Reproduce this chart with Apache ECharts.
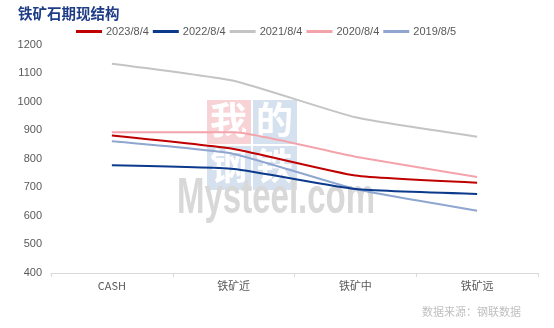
<!DOCTYPE html>
<html><head><meta charset="utf-8">
<script src="https://cdn.jsdelivr.net/npm/echarts@6/dist/echarts.min.js"></script>
<style>html,body{margin:0;padding:0;background:#fff}#c{width:554px;height:328px}</style>
</head><body><div id="c"></div>
<script>
var categories = ['CASH', '铁矿近', '铁矿中', '铁矿远'];
var s2023 = [881, 834, 741, 716];
var s2022 = [777, 764, 694, 677];
var s2021 = [1133, 1073, 945, 877];
var s2020 = [893, 893, 807, 736];
var s2019 = [861, 817, 694, 618];
var seriesNames = ['2023/8/4', '2022/8/4', '2021/8/4', '2020/8/4', '2019/8/5'];
var seriesData = [s2023, s2022, s2021, s2020, s2019];
var colors = ['#c00000', '#0b3a8c', '#c4c4c4', '#f4a3ab', '#8ea6d0'];

var chart = echarts.init(document.getElementById('c'));
var font = 'Liberation Sans, Arial, sans-serif';
var cjk = '"Noto Sans CJK SC", sans-serif';
chart.setOption({
  animation: false,
  color: colors,
  title: {
    text: '铁矿石期现结构', left: 13, top: 1,
    textStyle: {fontFamily: cjk, fontSize: 14.5, fontWeight: 'bold', color: '#1f3c86'}
  },
  legend: {
    data: seriesNames, left: 71, top: 21, itemWidth: 26, itemHeight: 3, itemGap: 4,
    icon: 'rect',
    textStyle: {fontFamily: font, fontSize: 11, color: '#595959', padding: [0, 0, 0, -1]}
  },
  grid: {left: 51, right: 16, top: 44.5, bottom: 55},
  xAxis: {
    type: 'category', data: categories, boundaryGap: true,
    axisLine: {lineStyle: {color: '#d9d9d9'}},
    axisTick: {show: true, length: 4, lineStyle: {color: '#d9d9d9'}},
    axisLabel: {fontFamily: cjk, fontSize: 11, color: '#595959', margin: 7}
  },
  yAxis: {
    type: 'value', min: 400, max: 1200, interval: 100,
    axisLine: {show: false}, axisTick: {show: false}, splitLine: {show: false},
    axisLabel: {fontFamily: font, fontSize: 11, color: '#595959', margin: 9,
      formatter: function (v) { return String(v); }}
  },
  graphic: [
    {type: 'rect', left: 207, top: 100, z: -10, shape: {width: 44, height: 44}, style: {fill: '#f7d3d6'}},
    {type: 'rect', left: 253, top: 100, z: -10, shape: {width: 44, height: 44}, style: {fill: '#d6e1ef'}},
    {type: 'rect', left: 207, top: 146, z: -10, shape: {width: 44, height: 44}, style: {fill: '#d6e1ef'}},
    {type: 'rect', left: 253, top: 146, z: -10, shape: {width: 44, height: 44}, style: {fill: '#d6e1ef'}},
    {type: 'text', left: 210, top: 101, z: -9, style: {text: '我', fill: '#fff', font: 'bold 37px "Noto Sans CJK SC"'}},
    {type: 'text', left: 256, top: 101, z: -9, style: {text: '的', fill: '#fff', font: 'bold 37px "Noto Sans CJK SC"'}},
    {type: 'text', left: 210, top: 147, z: -9, style: {text: '钢', fill: '#fff', font: 'bold 37px "Noto Sans CJK SC"'}},
    {type: 'text', left: 256, top: 147, z: -9, style: {text: '铁', fill: '#fff', font: 'bold 37px "Noto Sans CJK SC"'}},
    {type: 'text', x: 177, y: 174, scaleX: 0.66, z: -8, style: {text: 'Mysteel.com', fill: '#d8d8d8', font: 'bold 50px "Liberation Sans"'}},
    {type: 'text', right: 33, top: 306, style: {text: '数据来源：钢联数据', fill: '#bfbfbf', font: '11px "Noto Sans CJK SC"'}}
  ],
  series: seriesNames.map(function (n, i) {
    return {
      name: n, type: 'line', data: seriesData[i], smooth: 0.15,
      symbol: 'none', lineStyle: {width: 2, color: colors[i]}, z: 5 - i + 2
    };
  })
});
</script></body></html>
